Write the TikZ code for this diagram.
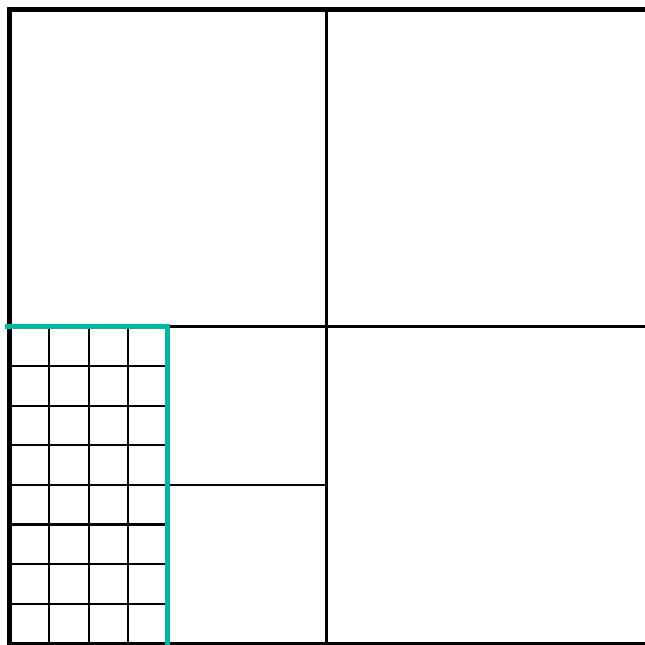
\documentclass[tikz,border=0pt]{standalone}
\usetikzlibrary{calc}
\definecolor{tealline}{RGB}{0,182,160}
\tikzset{every picture/.style={line width=0.8pt}}
\begin{document}
\begin{tikzpicture}[x=0.5cm,y=0.5cm]
    \useasboundingbox (-0.24,-0.04) rectangle (16.02,16.24);
    % quadranten
    \draw (8,0) -- (8,16);
    \draw (0,8) -- (16.2,8);
    \draw (4,4) -- (8,4);
    % feines gitter
    \draw[step={(1,1)}] (0,0) grid (4,8);
    \draw (0,0) -- (16.2,0);
    % rand
    \draw[line width=1.8pt, line join=miter] (0,-0.2) -- (0,16) -- (16.2,16);
    % markierter block
    \draw[tealline, line width=1.8pt, line join=miter] (-0.12,8) -- (4,8) -- (4,-0.2);
\end{tikzpicture}
\end{document}
